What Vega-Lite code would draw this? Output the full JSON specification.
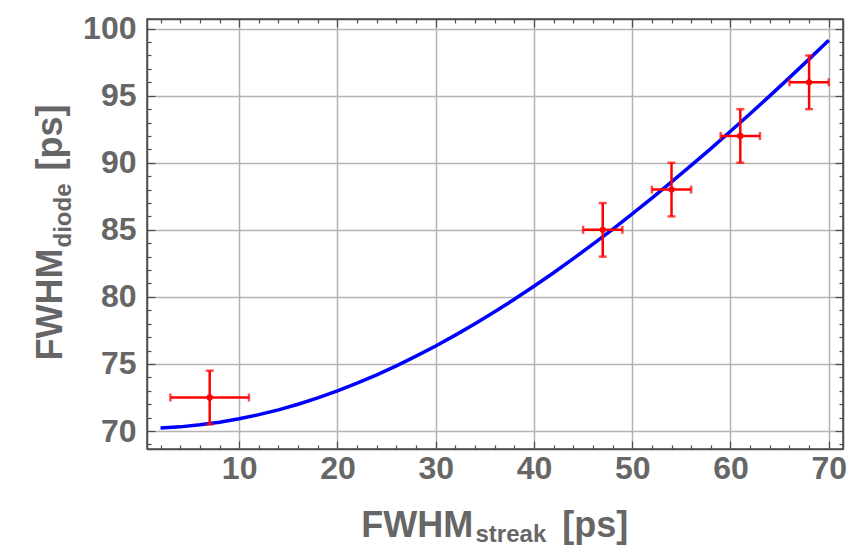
{
  "$schema": "https://vega.github.io/schema/vega-lite/v6.json",
  "width": 696,
  "height": 430,
  "autosize": {"type": "none"},
  "padding": {"left": 147, "top": 19, "right": 19, "bottom": 98},
  "background": "white",
  "config": {
    "view": {"stroke": "#4d4d4d", "strokeWidth": 1.5},
    "axis": {
      "labelFont": "Liberation Sans",
      "labelFontWeight": "bold",
      "labelFontSize": 32,
      "labelColor": "#666666",
      "titleFont": "Liberation Sans",
      "titleFontWeight": "bold",
      "titleColor": "#666666",
      "tickColor": "#4d4d4d",
      "tickWidth": 1.2,
      "domainColor": "#4d4d4d",
      "domainWidth": 1.5,
      "gridColor": "#b4b4b4",
      "gridWidth": 1.5,
      "labelFlush": false,
      "labelOverlap": false,
      "labelBound": false
    }
  },
  "datasets": {
    "curve": [
      {"x": 2, "y": 70.23}, {"x": 4, "y": 70.31}, {"x": 6, "y": 70.46}, {"x": 8, "y": 70.65},
      {"x": 10, "y": 70.91}, {"x": 12, "y": 71.22}, {"x": 14, "y": 71.58}, {"x": 16, "y": 72.0},
      {"x": 18, "y": 72.47}, {"x": 20, "y": 72.99}, {"x": 22, "y": 73.57}, {"x": 24, "y": 74.19},
      {"x": 26, "y": 74.86}, {"x": 28, "y": 75.58}, {"x": 30, "y": 76.34}, {"x": 32, "y": 77.15},
      {"x": 34, "y": 78.0}, {"x": 36, "y": 78.89}, {"x": 38, "y": 79.82}, {"x": 40, "y": 80.8},
      {"x": 42, "y": 81.8}, {"x": 44, "y": 82.85}, {"x": 46, "y": 83.93}, {"x": 48, "y": 85.04},
      {"x": 50, "y": 86.19}, {"x": 52, "y": 87.36}, {"x": 54, "y": 88.57}, {"x": 56, "y": 89.8},
      {"x": 58, "y": 91.06}, {"x": 60, "y": 92.35}, {"x": 62, "y": 93.66}, {"x": 64, "y": 94.99},
      {"x": 66, "y": 96.35}, {"x": 68, "y": 97.73}, {"x": 70, "y": 99.14}
    ],
    "points": [
      {"x": 7, "y": 72.5, "ex": 4, "ey": 2},
      {"x": 47, "y": 85, "ex": 2, "ey": 2},
      {"x": 54, "y": 88, "ex": 2, "ey": 2},
      {"x": 61, "y": 92, "ex": 2, "ey": 2},
      {"x": 68, "y": 96, "ex": 2, "ey": 2}
    ]
  },
  "resolve": {"axis": {"x": "independent", "y": "independent"}},
  "layer": [
    {
      "data": {"name": "curve"},
      "mark": {"type": "line", "color": "#0000ff", "strokeWidth": 3.5},
      "encoding": {
        "x": {
          "field": "x", "type": "quantitative",
          "scale": {"domain": [0.62, 71.45], "nice": false, "zero": false},
          "axis": {
            "orient": "bottom",
            "values": [2,4,6,8,10,12,14,16,18,20,22,24,26,28,30,32,34,36,38,40,42,44,46,48,50,52,54,56,58,60,62,64,66,68,70],
            "labelExpr": "datum.value % 10 === 0 ? datum.label : ''",
            "tickSize": {"condition": {"test": "datum.value % 10 === 0", "value": -8}, "value": -4},
            "grid": true,
            "gridOpacity": {"condition": {"test": "datum.value % 10 === 0", "value": 1}, "value": 0},
            "labelPadding": 12,
            "labelBaseline": "top",
            "domain": true,
            "title": "FWHM",
            "titleFontSize": 36,
            "titleX": 213.7,
            "titleY": 87.7,
            "titleAlign": "left",
            "titleBaseline": "alphabetic",
            "titleAngle": 0
          }
        },
        "y": {
          "field": "y", "type": "quantitative",
          "scale": {"domain": [68.66, 100.72], "nice": false, "zero": false},
          "axis": {
            "orient": "left",
            "values": [69,70,71,72,73,74,75,76,77,78,79,80,81,82,83,84,85,86,87,88,89,90,91,92,93,94,95,96,97,98,99,100],
            "labelExpr": "datum.value % 5 === 0 ? datum.label : ''",
            "tickSize": {"condition": {"test": "datum.value % 5 === 0", "value": -8}, "value": -4},
            "grid": true,
            "gridOpacity": {"condition": {"test": "datum.value % 5 === 0", "value": 1}, "value": 0},
            "labelPadding": 19,
            "domain": true,
            "title": "FWHM",
            "titleFontSize": 36,
            "titleX": -86,
            "titleY": 341,
            "titleAngle": 270,
            "titleAlign": "left",
            "titleBaseline": "alphabetic"
          }
        }
      }
    },
    {
      "data": {"name": "points"},
      "mark": {"type": "errorbar", "ticks": true, "color": "#ff0000", "thickness": 2.5, "size": 8},
      "encoding": {
        "x": {
          "field": "x", "type": "quantitative",
          "scale": {"domain": [0.62, 71.45], "nice": false, "zero": false},
          "axis": {
            "orient": "bottom", "domain": false, "ticks": false, "labels": false, "grid": false,
            "title": "streak", "titleFontSize": 24, "titleX": 328, "titleY": 92.7,
            "titleAlign": "left", "titleBaseline": "alphabetic", "titleAngle": 0
          }
        },
        "xError": {"field": "ex"},
        "y": {
          "field": "y", "type": "quantitative",
          "scale": {"domain": [68.66, 100.72], "nice": false, "zero": false},
          "axis": {
            "orient": "left", "domain": false, "ticks": false, "labels": false, "grid": false,
            "title": "diode", "titleFontSize": 24, "titleX": -77, "titleY": 228,
            "titleAngle": 270, "titleAlign": "left", "titleBaseline": "alphabetic"
          }
        }
      }
    },
    {
      "data": {"name": "points"},
      "mark": {"type": "errorbar", "ticks": true, "color": "#ff0000", "thickness": 2.5, "size": 8},
      "encoding": {
        "x": {
          "field": "x", "type": "quantitative",
          "scale": {"domain": [0.62, 71.45], "nice": false, "zero": false},
          "axis": {
            "orient": "bottom", "domain": false, "ticks": false, "labels": false, "grid": false,
            "title": "[ps]", "titleFontSize": 36, "titleX": 414.7, "titleY": 87.7,
            "titleAlign": "left", "titleBaseline": "alphabetic", "titleAngle": 0
          }
        },
        "y": {
          "field": "y", "type": "quantitative",
          "scale": {"domain": [68.66, 100.72], "nice": false, "zero": false},
          "axis": {
            "orient": "left", "domain": false, "ticks": false, "labels": false, "grid": false,
            "title": "[ps]", "titleFontSize": 36, "titleX": -86, "titleY": 151,
            "titleAngle": 270, "titleAlign": "left", "titleBaseline": "alphabetic"
          }
        },
        "yError": {"field": "ey"}
      }
    },
    {
      "data": {"name": "points"},
      "mark": {"type": "circle", "color": "#ff0000", "size": 40, "opacity": 1},
      "encoding": {
        "x": {
          "field": "x", "type": "quantitative",
          "scale": {"domain": [0.62, 71.45], "nice": false, "zero": false},
          "axis": {
            "orient": "top",
            "values": [2,4,6,8,10,12,14,16,18,20,22,24,26,28,30,32,34,36,38,40,42,44,46,48,50,52,54,56,58,60,62,64,66,68,70],
            "tickSize": {"condition": {"test": "datum.value % 10 === 0", "value": -8}, "value": -4},
            "labels": false, "grid": false, "domain": true, "title": null
          }
        },
        "y": {
          "field": "y", "type": "quantitative",
          "scale": {"domain": [68.66, 100.72], "nice": false, "zero": false},
          "axis": {
            "orient": "right",
            "values": [69,70,71,72,73,74,75,76,77,78,79,80,81,82,83,84,85,86,87,88,89,90,91,92,93,94,95,96,97,98,99,100],
            "tickSize": {"condition": {"test": "datum.value % 5 === 0", "value": -8}, "value": -4},
            "labels": false, "grid": false, "domain": true, "title": null
          }
        }
      }
    }
  ]
}
